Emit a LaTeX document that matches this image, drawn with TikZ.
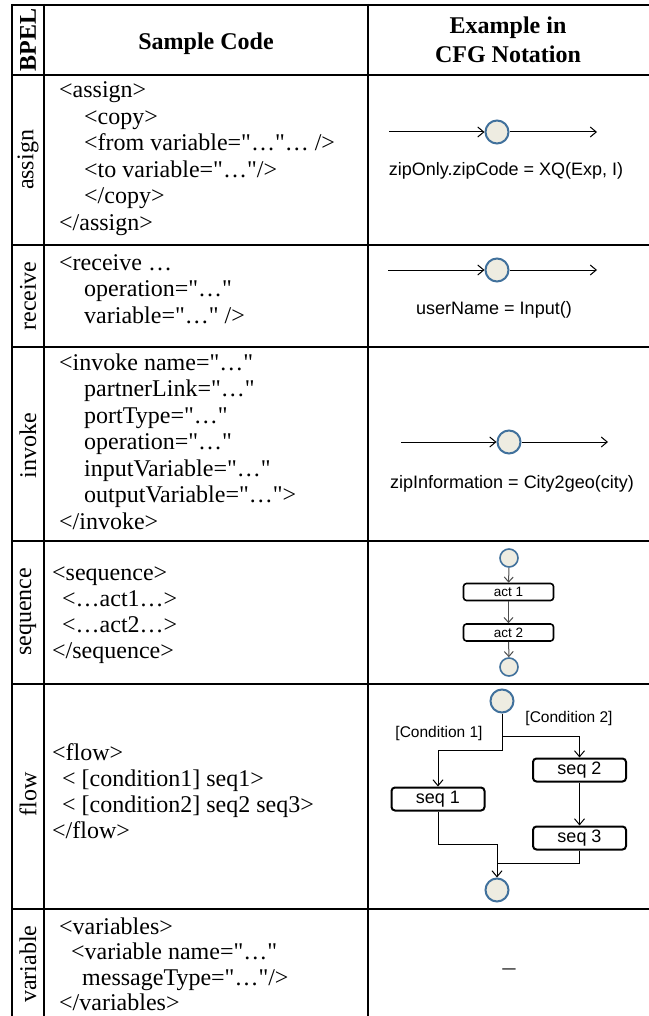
\documentclass[tikz,border=0pt]{standalone}
\usepackage{fontspec}
\setmainfont{Liberation Serif}[Ligatures=TeXOff]
\newfontfamily\arialf{Liberation Sans}
\usetikzlibrary{arrows.meta}
\definecolor{cfill}{HTML}{EEECE1}
\definecolor{cblue}{HTML}{41719C}
\definecolor{sgray}{HTML}{4D4D4D}
\begin{document}
\begin{tikzpicture}[x=1pt,y=-1pt,
  grid/.style={line width=2pt, black},
  code/.style={anchor=base west, inner sep=0pt, font=\fontsize{24}{25}\selectfont},
  lab/.style={rotate=90, anchor=center, inner sep=0pt, font=\fontsize{24}{25}\selectfont},
  hdr/.style={inner sep=0pt, anchor=base, font=\fontsize{24}{25}\selectfont\bfseries},
  ev/.style={circle, draw=cblue, fill=cfill, line width=2pt, minimum size=23pt, inner sep=0pt},
  sev/.style={circle, draw=cblue, fill=cfill, line width=1.6pt, minimum size=18pt, inner sep=0pt},
  actbox/.style={draw=black, line width=1.6pt, rounded corners=3pt, inner sep=0pt,
    minimum width=90pt, minimum height=17pt, font=\arialf\fontsize{13.5}{14}\selectfont},
  seqbox/.style={draw=black, line width=2pt, rounded corners=3.5pt, inner sep=0pt,
    minimum width=93pt, minimum height=23pt, font=\arialf\fontsize{18}{18}\selectfont},
  flowarr/.style={line width=1pt, -{Straight Barb[length=6pt,width=10pt]}},
  sarr/.style={line width=1pt, sgray, -{Straight Barb[length=5pt,width=9pt]}},
  fline/.style={line width=1pt, black},
  dtxt/.style={inner sep=0pt, anchor=base, font=\arialf\fontsize{18}{18}\selectfont},
  ctxt/.style={inner sep=0pt, anchor=base, font=\arialf\fontsize{15.5}{16}\selectfont},
]
\useasboundingbox (0,0) rectangle (648,1016);

% ---- table grid ----
\draw[grid] (11,5) -- (649,5);
\draw[grid] (12,4) -- (12,1017);
\draw[grid] (44,4) -- (44,1017);
\draw[grid] (368,4) -- (368,1017);
\foreach \yy in {75,245,347,541,684,909} \draw[grid] (11,\yy) -- (649,\yy);

% ---- header ----
\node[hdr, rotate=90, anchor=center] (hbpel) at (28,40) {BPEL};
\node[hdr] (hsc) at (206,50) {Sample Code};
\node[hdr] (hex1) at (508,34) {Example in};
\node[hdr] (hex2) at (508,63) {CFG Notation};

% ---- row labels ----
\node[lab] (lassign) at (28,160) {assign};
\node[lab] (lreceive) at (28,296) {receive};
\node[lab] (linvoke) at (28,446) {invoke};
\node[lab] (lsequence) at (28,612) {sequence};
\node[lab] (lflow) at (28,794) {flow};
\node[lab] (lvariable) at (28,964) {variable};

% ---- assign code ----
\node[code] (as1) at (59,98) {<assign>};
\node[code] (as2) at (84,124.5) {<copy>};
\node[code] (as3) at (84,151) {<from variable="…"… />};
\node[code] (as4) at (84,177.5) {<to variable="…"/>};
\node[code] (as5) at (84,204) {</copy>};
\node[code] (as6) at (59,230.5) {</assign>};

% ---- receive code ----
\node[code] (rc1) at (59,270) {<receive …};
\node[code] (rc2) at (84,296.5) {operation="…"};
\node[code] (rc3) at (84,323) {variable="…" />};

% ---- invoke code ----
\node[code] (iv1) at (59,370) {<invoke name="…"};
\node[code] (iv2) at (84,396.5) {partnerLink="…"};
\node[code] (iv3) at (84,423) {portType="…"};
\node[code] (iv4) at (84,449.5) {operation="…"};
\node[code] (iv5) at (84,476) {inputVariable="…"};
\node[code] (iv6) at (84,502.5) {outputVariable="…">};
\node[code] (iv7) at (59,529) {</invoke>};

% ---- sequence code ----
\node[code] (sq1) at (52,580) {<sequence>};
\node[code] (sq2) at (62,606) {<…act1…>};
\node[code] (sq3) at (62,632) {<…act2…>};
\node[code] (sq4) at (52,658) {</sequence>};

% ---- flow code ----
\node[code] (fl1) at (52,760) {<flow>};
\node[code] (fl2) at (62,786) {< [condition1] seq1>};
\node[code] (fl3) at (62,812) {< [condition2] seq2 seq3>};
\node[code] (fl4) at (52,838) {</flow>};

% ---- variable code ----
\node[code] (vr1) at (59,934) {<variables>};
\node[code] (vr2) at (71,959.5) {<variable name="…"};
\node[code] (vr3) at (82,985) {messageType="…"/>};
\node[code] (vr4) at (59,1010) {</variables>};

% ---- assign diagram ----
\node[ev] (aev) at (497,132) {};
\coordinate (ain) at (389,132);
\coordinate (aout) at (597,132);
\draw[flowarr] (ain) -- (aev);
\draw[flowarr] (aev) -- (aout);
\node[dtxt] (atxt) at (506,176) {zipOnly.zipCode = XQ(Exp, I)};

% ---- receive diagram ----
\node[ev] (rev) at (497,270) {};
\coordinate (rin) at (388,270);
\coordinate (rout) at (597,270);
\draw[flowarr] (rin) -- (rev);
\draw[flowarr] (rev) -- (rout);
\node[dtxt] (rtxt) at (494,314) {userName = Input()};

% ---- invoke diagram ----
\node[ev] (iev) at (509,442) {};
\coordinate (iin) at (401,442);
\coordinate (iout) at (608,442);
\draw[flowarr] (iin) -- (iev);
\draw[flowarr] (iev) -- (iout);
\node[dtxt] (itxt) at (512,488) {zipInformation = City2geo(city)};

% ---- sequence diagram ----
\node[sev] (s0) at (509,558) {};
\node[actbox] (act1) at (508.5,592) {act 1};
\node[actbox] (act2) at (508.5,632.5) {act 2};
\node[sev] (s3) at (509,667) {};
\draw[sarr] (s0) -- (act1);
\draw[sarr] (act1) -- (act2);
\draw[sarr] (act2) -- (s3);

% ---- flow diagram ----
\node[ev] (f0) at (502,701) {};
\node[seqbox] (seq1) at (438,799) {seq 1};
\node[seqbox] (seq2) at (579.5,770) {seq 2};
\node[seqbox] (seq3) at (579.5,838) {seq 3};
\node[ev] (f1) at (497,890) {};
\coordinate (fr) at (502,736);
\coordinate (fl) at (502,750);
\coordinate (fm1) at (497,844);
\coordinate (fm2) at (497,863);
\draw[flowarr] (f0.south) -- (fr) -| (seq2.north);
\draw[flowarr] (fr) -- (fl) -| (seq1.north);
\draw[flowarr] (seq2) -- (seq3);
\draw[fline] (seq1.south) |- (fm1);
\draw[fline] (seq3.south) |- (fm2);
\draw[flowarr] (fm1) -- (f1);
\node[ctxt] (c1) at (439,737) {[Condition 1]};
\node[ctxt] (c2) at (569,722) {[Condition 2]};

% ---- variable ----
\node[inner sep=0pt, anchor=base, font=\arialf\fontsize{24}{25}\selectfont, text=sgray] (vdash) at (509,975) {–};

\end{tikzpicture}
\end{document}
